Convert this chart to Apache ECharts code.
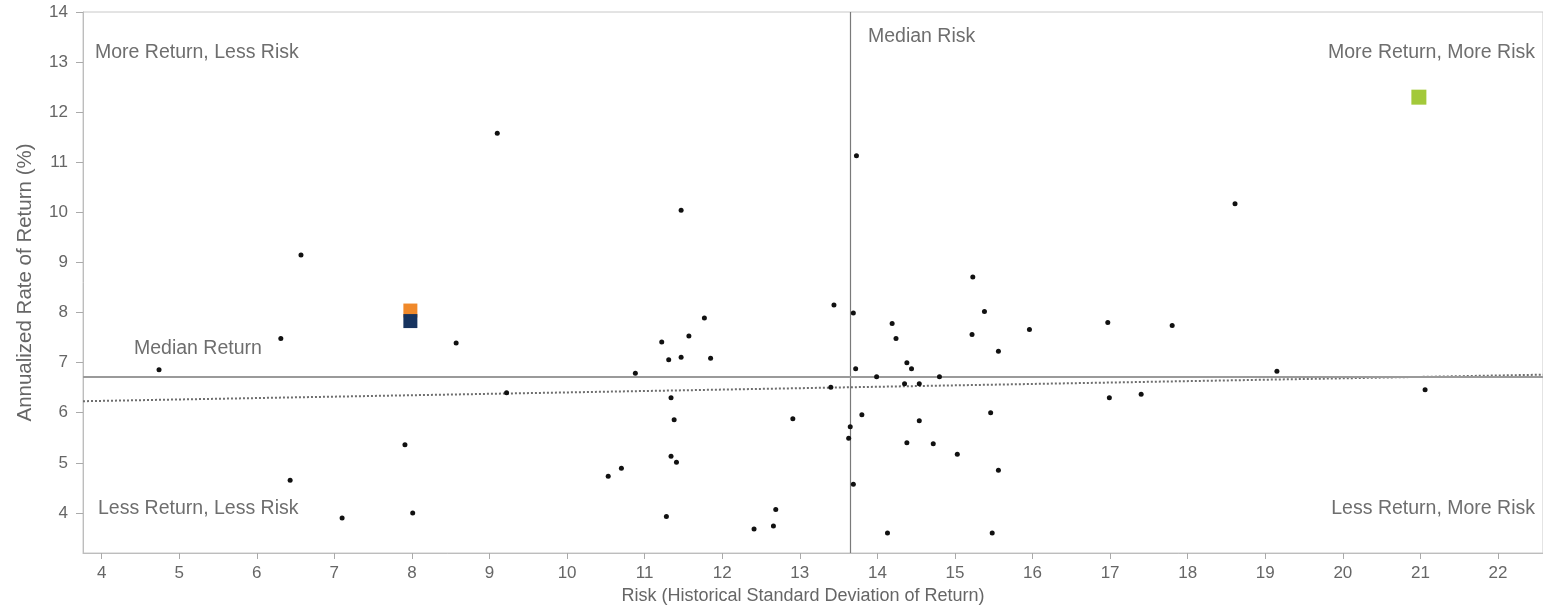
<!DOCTYPE html>
<html>
<head>
<meta charset="utf-8">
<script src="https://cdn.jsdelivr.net/npm/echarts@6/dist/echarts.min.js"></script>
<style>
  html, body { margin: 0; padding: 0; background: #fff; }
  #chart { width: 1543px; height: 611px; }
</style>
</head>
<body>
<div id="chart"></div>
<script>
// ---- Data ----
const xTicks = [4, 5, 6, 7, 8, 9, 10, 11, 12, 13, 14, 15, 16, 17, 18, 19, 20, 21, 22];
const yTicks = [4, 5, 6, 7, 8, 9, 10, 11, 12, 13, 14];

// Peer funds (small black dots): [risk, return]
const peerFunds = [
  [6.57, 9.15], [9.10, 11.58],
  [6.31, 7.48], [8.57, 7.39], [4.74, 6.86], [9.22, 6.40], [7.91, 5.36],
  [6.43, 4.65], [7.10, 3.90], [8.01, 4.00],
  [13.44, 8.15], [13.69, 7.99], [11.77, 7.89], [11.22, 7.41], [11.57, 7.53],
  [11.31, 7.06], [11.47, 7.11], [11.85, 7.09], [10.88, 6.79], [14.19, 7.78],
  [14.24, 7.48], [15.38, 8.02], [15.22, 7.56], [15.96, 7.66], [15.56, 7.23],
  [13.72, 6.88], [13.99, 6.72], [14.38, 7.00], [14.44, 6.88], [14.80, 6.72],
  [14.35, 6.58], [14.54, 6.58], [13.40, 6.51], [11.34, 6.30], [11.38, 5.86],
  [12.91, 5.88], [13.65, 5.72], [13.63, 5.49], [13.80, 5.96], [14.54, 5.84],
  [15.46, 6.00], [11.34, 5.13], [11.41, 5.01], [10.70, 4.89], [10.53, 4.73],
  [14.38, 5.40], [14.72, 5.38], [15.03, 5.17], [15.56, 4.85], [13.69, 4.57],
  [12.69, 4.07], [12.66, 3.74], [12.41, 3.68], [11.28, 3.93], [14.13, 3.60],
  [15.48, 3.60],
  [13.73, 11.13], [11.47, 10.04], [15.23, 8.71],
  [18.61, 10.17],
  [16.97, 7.80], [17.80, 7.74], [19.15, 6.83], [16.99, 6.30], [17.40, 6.37],
  [21.06, 6.46]
];

// Highlighted funds (squares)
const orangeFund = [[7.98, 8.04]];
const navyFund = [[7.98, 7.83]];
const greenFund = [[20.98, 12.30]];

// Reference lines
const medianRisk = 13.65;
const medianReturn = 6.72;
const trendLine = [[3.76, 6.23], [22.58, 6.76]];

// Quadrant / line annotations
const labels = {
  mrlr: 'More Return, Less Risk',
  mrmr: 'More Return, More Risk',
  lrlr: 'Less Return, Less Risk',
  lrmr: 'Less Return, More Risk',
  medRisk: 'Median Risk',
  medReturn: 'Median Return'
};
const xTitle = 'Risk (Historical Standard Deviation of Return)';
const yTitle = 'Annualized Rate of Return (%)';

// ---- Chart ----
const chart = echarts.init(document.getElementById('chart'), null, { renderer: 'canvas' });

const tickFont = { fontFamily: '"Liberation Sans Narrow", "Arial Narrow", "Liberation Sans", Arial, sans-serif', fontSize: 17, color: '#666' };
const annoFont = { fontFamily: '"Liberation Sans", Arial, sans-serif', fontSize: 19.5, fill: '#6e6e6e' };

const option = {
  animation: false,
  backgroundColor: '#ffffff',
  grid: {
    left: 83, top: 12, right: 0, bottom: 58,
    show: true, borderColor: '#c8c8c8', borderWidth: 1, backgroundColor: 'transparent'
  },
  xAxis: {
    type: 'value',
    min: 3.76, max: 22.58,
    name: xTitle,
    nameLocation: 'middle',
    nameGap: 28,
    nameTextStyle: { fontFamily: '"Liberation Sans", Arial, sans-serif', fontSize: 18, color: '#666', padding: [0, 20, 0, 0] },
    axisLine: { show: true, lineStyle: { color: '#bdbdbd', width: 1 } },
    axisTick: { show: true, length: 6, lineStyle: { color: '#aaa' }, customValues: xTicks },
    axisLabel: { margin: 12, customValues: xTicks, ...tickFont },
    splitLine: { show: false }
  },
  yAxis: {
    type: 'value',
    min: 3.2, max: 14.0,
    name: yTitle,
    nameLocation: 'middle',
    nameRotate: 90,
    nameGap: 47,
    nameTextStyle: { fontFamily: '"Liberation Sans", Arial, sans-serif', fontSize: 20.5, color: '#666' },
    axisLine: { show: true, lineStyle: { color: '#bdbdbd', width: 1 } },
    axisTick: { show: true, length: 7, lineStyle: { color: '#aaa' }, customValues: yTicks },
    axisLabel: { margin: 15, customValues: yTicks, ...tickFont },
    splitLine: { show: false }
  },
  series: [
    {
      name: 'Trend',
      type: 'line',
      data: trendLine,
      symbol: 'none',
      silent: true,
      lineStyle: { color: '#6e6e6e', width: 2, type: 'dotted' },
      z: 2
    },
    {
      name: 'Medians',
      type: 'scatter',
      data: [],
      silent: true,
      markLine: {
        silent: true,
        symbol: ['none', 'none'],
        label: { show: false },
        animation: false,
        data: [
          { xAxis: medianRisk, lineStyle: { color: '#7a7a7a', width: 1.2, type: 'solid' } },
          { yAxis: medianReturn, lineStyle: { color: '#9a9a9a', width: 2, type: 'solid' } }
        ]
      },
      z: 3
    },
    {
      name: 'Peers',
      type: 'scatter',
      data: peerFunds,
      symbol: 'circle',
      symbolSize: 5,
      itemStyle: { color: '#111', opacity: 1 },
      z: 5
    },
    {
      name: 'Orange',
      type: 'scatter',
      data: orangeFund,
      symbol: 'rect',
      symbolSize: 14,
      itemStyle: { color: '#f0892a', opacity: 1 },
      z: 6
    },
    {
      name: 'Navy',
      type: 'scatter',
      data: navyFund,
      symbol: 'rect',
      symbolSize: 14,
      itemStyle: { color: '#16335f', opacity: 1 },
      z: 7
    },
    {
      name: 'Green',
      type: 'scatter',
      data: greenFund,
      symbol: 'rect',
      symbolSize: 15,
      itemStyle: { color: '#a3c93a', opacity: 1 },
      z: 7
    }
  ],
  graphic: [
    { type: 'text', left: 95, top: 43, style: { text: labels.mrlr, ...annoFont } },
    { type: 'text', right: 8, top: 43, style: { text: labels.mrmr, ...annoFont } },
    { type: 'text', left: 98, top: 499, style: { text: labels.lrlr, ...annoFont } },
    { type: 'text', right: 8, top: 499, style: { text: labels.lrmr, ...annoFont } },
    { type: 'text', left: 868, top: 27, style: { text: labels.medRisk, ...annoFont } },
    { type: 'text', left: 134, top: 339, style: { text: labels.medReturn, ...annoFont } }
  ]
};

chart.setOption(option);
</script>
</body>
</html>
